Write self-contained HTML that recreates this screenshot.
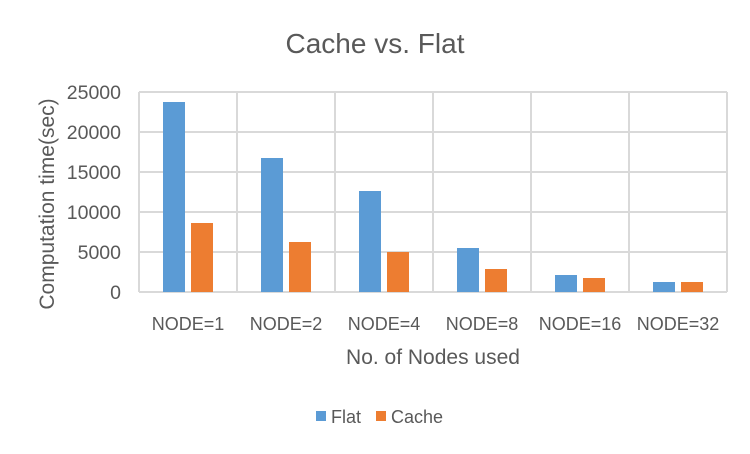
<!DOCTYPE html>
<html><head><style>body{margin:0;background:#fff}</style></head><body>
<svg width="750" height="449" xmlns="http://www.w3.org/2000/svg" font-family="Liberation Sans, sans-serif" fill="#595959">
<rect width="750" height="449" fill="#fff"/>
<text x="375" y="53" font-size="28" text-anchor="middle">Cache vs. Flat</text>
<g stroke="#d9d9d9" stroke-width="2">
<line x1="139" y1="92" x2="727" y2="92"/><line x1="139" y1="132" x2="727" y2="132"/>
<line x1="139" y1="172" x2="727" y2="172"/><line x1="139" y1="212" x2="727" y2="212"/>
<line x1="139" y1="252" x2="727" y2="252"/><line x1="139" y1="292" x2="727" y2="292"/>
<line x1="139" y1="92" x2="139" y2="292"/><line x1="237" y1="92" x2="237" y2="292"/>
<line x1="335" y1="92" x2="335" y2="292"/><line x1="433" y1="92" x2="433" y2="292"/>
<line x1="531" y1="92" x2="531" y2="292"/><line x1="629" y1="92" x2="629" y2="292"/>
<line x1="727" y1="92" x2="727" y2="292"/>
</g>
<g font-size="19.5" text-anchor="end">
<text x="121" y="99">25000</text><text x="121" y="139">20000</text><text x="121" y="179">15000</text>
<text x="121" y="219">10000</text><text x="121" y="259">5000</text><text x="121" y="299">0</text>
</g>
<g fill="#5b9bd5">
<rect x="163" y="102" width="22" height="190"/><rect x="261" y="158" width="22" height="134"/>
<rect x="359" y="191" width="22" height="101"/><rect x="457" y="248" width="22" height="44"/>
<rect x="555" y="275" width="22" height="17"/><rect x="653" y="282" width="22" height="10"/>
</g>
<g fill="#ed7d31">
<rect x="191" y="223" width="22" height="69"/><rect x="289" y="242" width="22" height="50"/>
<rect x="387" y="252" width="22" height="40"/><rect x="485" y="269" width="22" height="23"/>
<rect x="583" y="278" width="22" height="14"/><rect x="681" y="282" width="22" height="10"/>
</g>
<g font-size="18" text-anchor="middle">
<text x="188" y="330">NODE=1</text><text x="286" y="330">NODE=2</text><text x="384" y="330">NODE=4</text>
<text x="482" y="330">NODE=8</text><text x="580" y="330">NODE=16</text><text x="678" y="330">NODE=32</text>
</g>
<text x="433" y="364" font-size="21" text-anchor="middle">No. of Nodes used</text>
<text transform="translate(54,204) rotate(-90)" font-size="21" text-anchor="middle">Computation time(sec)</text>
<rect x="316" y="411" width="10" height="10" fill="#5b9bd5"/>
<text x="331" y="423" font-size="18">Flat</text>
<rect x="376" y="411" width="10" height="10" fill="#ed7d31"/>
<text x="391" y="423" font-size="18">Cache</text>
</svg>
</body></html>
